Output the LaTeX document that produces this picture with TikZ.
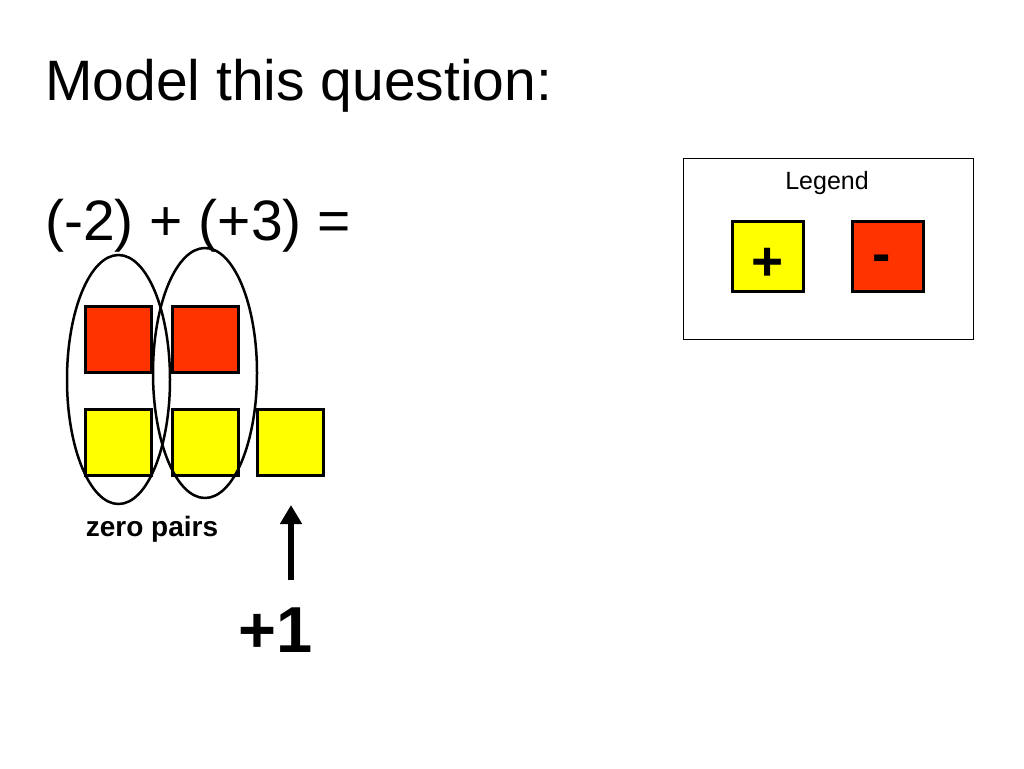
\documentclass[tikz,border=0pt]{standalone}
\usepackage{fontspec}
\setmainfont{Liberation Sans}
\usetikzlibrary{arrows.meta}
\definecolor{negred}{HTML}{FF3300}
\definecolor{posyel}{HTML}{FFFF00}
\tikzset{
  tile/.style={draw=black, line width=3pt, minimum width=66pt, minimum height=66pt, inner sep=0pt},
  negtile/.style={tile, fill=negred},
  postile/.style={tile, fill=posyel},
  ring/.style={draw=black, line width=2.5pt},
  legsign/.style={anchor=base, inner sep=0pt, font=\fontsize{55}{57}\selectfont\bfseries},
}
\begin{document}
\begin{tikzpicture}[x=1pt,y=-1pt]
\useasboundingbox (0,0) rectangle (1024,768);
% titles
\node[anchor=base west, inner sep=0pt, font=\fontsize{57}{60}\selectfont] (title) at (45,100) {Model this question:};
\node[anchor=base west, inner sep=0pt, font=\fontsize{57}{60}\selectfont] (eq) at (45,240) {(-2) + (+3) =};
% tiles
\node[negtile] (r1) at (118.5,339.5) {};
\node[negtile] (r2) at (205,339.5) {};
\node[postile] (y1) at (118.5,442.5) {};
\node[postile] (y2) at (205,442.5) {};
\node[postile] (y3) at (290.5,442.5) {};
% zero pair rings
\draw[ring] (118.5,379.5) ellipse [x radius=51.5, y radius=124.5];
\draw[ring] (205,373) ellipse [x radius=52, y radius=125];
\node[anchor=base, inner sep=0pt, font=\fontsize{28}{30}\selectfont\bfseries] (zp) at (152,536) {zero pairs};
% arrow and +1
\node[anchor=base, inner sep=0pt, font=\fontsize{65}{68}\selectfont\bfseries] (plusone) at (276,652) {+1};
\coordinate (arrtail) at (291,580);
\coordinate (arrhead) at (291,505);
\draw[line width=6pt, -{Triangle[length=19pt,width=21pt]}] (arrtail) -- (arrhead);
% legend
\node[draw=black, line width=1pt, minimum width=290pt, minimum height=181pt, inner sep=0pt] (legend) at (828,248.5) {};
\node[anchor=base, inner sep=0pt, font=\fontsize{25}{27}\selectfont] (legtitle) at (827,189) {Legend};
\node[negtile, minimum width=71pt, minimum height=70pt] (lneg) at (887.5,256) {};
\node[postile, minimum width=71pt, minimum height=70pt] (lpos) at (767.5,256) {};
\node[legsign] (lplus) at (768,280) {+};
\node[legsign] (lminus) at (882,272) {-};
\end{tikzpicture}
\end{document}
